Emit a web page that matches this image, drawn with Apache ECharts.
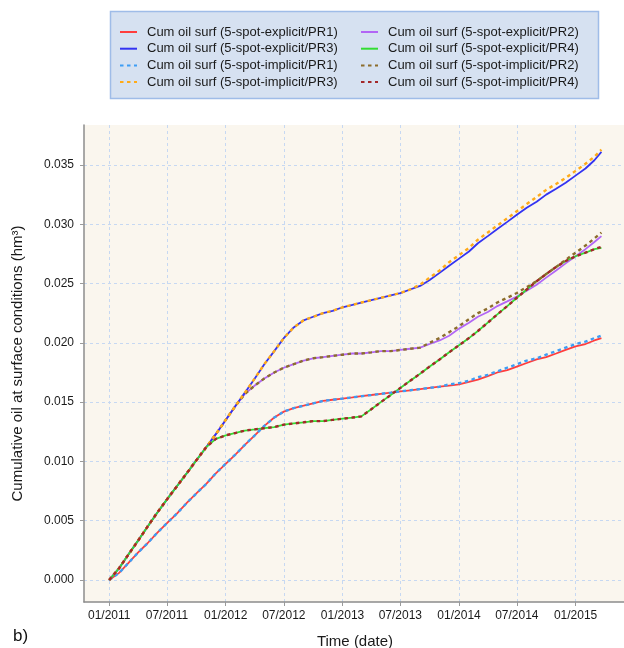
<!DOCTYPE html>
<html>
<head>
<meta charset="utf-8">
<script src="https://cdn.jsdelivr.net/npm/echarts@6/dist/echarts.min.js"></script>
<style>
  html, body { margin: 0; padding: 0; background: #ffffff; }
  #chart { width: 624px; height: 648px; }
</style>
</head>
<body>
<div id="chart"></div>
<script>
// Report dates (monthly output, last step in March 2015)
const dates = [
  '2011-01-01','2011-02-01','2011-03-01','2011-04-01','2011-05-01','2011-06-01',
  '2011-07-01','2011-08-01','2011-09-01','2011-10-01','2011-11-01','2011-12-01',
  '2012-01-01','2012-02-01','2012-03-01','2012-04-01','2012-05-01','2012-06-01',
  '2012-07-01','2012-08-01','2012-09-01','2012-10-01','2012-11-01','2012-12-01',
  '2013-01-01','2013-02-01','2013-03-01','2013-04-01','2013-05-01','2013-06-01',
  '2013-07-01','2013-08-01','2013-09-01','2013-10-01','2013-11-01','2013-12-01',
  '2014-01-01','2014-02-01','2014-03-01','2014-04-01','2014-05-01','2014-06-01',
  '2014-07-01','2014-08-01','2014-09-01','2014-10-01','2014-11-01','2014-12-01',
  '2015-01-01','2015-02-01','2015-03-01','2015-03-23'
];

// Cumulative oil at surface conditions (hm3), explicit runs
const explicitPR1 = [0, 0.0006, 0.0014, 0.0023, 0.0031, 0.0040, 0.0048, 0.0056, 0.0065, 0.0073, 0.0081, 0.0090,
  0.0098, 0.0106, 0.0114, 0.0122, 0.0130, 0.0137, 0.0142, 0.0145, 0.0147, 0.0149, 0.0151, 0.0152,
  0.0153, 0.0154, 0.0155, 0.0156, 0.0157, 0.0158, 0.0159, 0.0160, 0.0161, 0.0162, 0.0163, 0.0164,
  0.0165, 0.0167, 0.0169, 0.0172, 0.0175, 0.0177, 0.0180, 0.0183, 0.0186, 0.0188, 0.0191, 0.0194,
  0.0197, 0.0199, 0.0202, 0.0204];
const explicitPR2 = [0, 0.0010, 0.0021, 0.0033, 0.0045, 0.0057, 0.0068, 0.0079, 0.0090, 0.0101, 0.0112, 0.0123,
  0.0135, 0.0147, 0.0157, 0.0164, 0.0170, 0.0175, 0.0179, 0.0182, 0.0185, 0.0187, 0.0188, 0.0189,
  0.0190, 0.0191, 0.0191, 0.0192, 0.0193, 0.0193, 0.0194, 0.0195, 0.0196, 0.0199, 0.0202, 0.0206,
  0.0212, 0.0217, 0.0222, 0.0226, 0.0231, 0.0235, 0.0239, 0.0244, 0.0249, 0.0255, 0.0261, 0.0267,
  0.0273, 0.0279, 0.0285, 0.0290];
const explicitPR3 = [0, 0.0010, 0.0021, 0.0033, 0.0045, 0.0057, 0.0068, 0.0079, 0.0090, 0.0101, 0.0112, 0.0123,
  0.0135, 0.0147, 0.0158, 0.0170, 0.0182, 0.0193, 0.0204, 0.0213, 0.0219, 0.0222, 0.0225, 0.0227,
  0.0230, 0.0232, 0.0234, 0.0236, 0.0238, 0.0240, 0.0242, 0.0245, 0.0248, 0.0253, 0.0259, 0.0265,
  0.0271, 0.0277, 0.0284, 0.0290, 0.0296, 0.0302, 0.0308, 0.0314, 0.0319, 0.0325, 0.0330, 0.0335,
  0.0341, 0.0347, 0.0354, 0.0361];
const explicitPR4 = [0, 0.0010, 0.0021, 0.0033, 0.0045, 0.0057, 0.0068, 0.0079, 0.0090, 0.0101, 0.0112, 0.0119,
  0.0122, 0.0124, 0.0126, 0.0127, 0.0128, 0.0129, 0.0131, 0.0132, 0.0133, 0.0134, 0.0134, 0.0135,
  0.0136, 0.0137, 0.0138, 0.0144, 0.0150, 0.0156, 0.0162, 0.0168, 0.0174, 0.0180, 0.0186, 0.0192,
  0.0198, 0.0204, 0.0210, 0.0217, 0.0224, 0.0231, 0.0238, 0.0245, 0.0252, 0.0258, 0.0264, 0.0269,
  0.0273, 0.0276, 0.0279, 0.0280];

// Implicit runs
const implicitPR1 = [0, 0.0006, 0.0014, 0.0023, 0.0031, 0.0040, 0.0048, 0.0056, 0.0065, 0.0073, 0.0081, 0.0090,
  0.0098, 0.0106, 0.0114, 0.0122, 0.0130, 0.0137, 0.0142, 0.0145, 0.0147, 0.0149, 0.0151, 0.0152,
  0.0153, 0.0154, 0.0155, 0.0156, 0.0157, 0.0158, 0.0159, 0.0160, 0.0161, 0.0162, 0.0163, 0.0165,
  0.0166, 0.0168, 0.0171, 0.0173, 0.0176, 0.0179, 0.0182, 0.0185, 0.0187, 0.0190, 0.0193, 0.0196,
  0.0199, 0.0201, 0.0204, 0.0206];
const implicitPR2 = [0, 0.0010, 0.0021, 0.0033, 0.0045, 0.0057, 0.0068, 0.0079, 0.0090, 0.0101, 0.0112, 0.0123,
  0.0135, 0.0147, 0.0157, 0.0164, 0.0170, 0.0175, 0.0179, 0.0182, 0.0185, 0.0187, 0.0188, 0.0189,
  0.0190, 0.0191, 0.0191, 0.0192, 0.0193, 0.0193, 0.0194, 0.0195, 0.0196, 0.0200, 0.0204, 0.0209,
  0.0214, 0.0220, 0.0225, 0.0229, 0.0234, 0.0238, 0.0242, 0.0247, 0.0252, 0.0258, 0.0264, 0.0270,
  0.0276, 0.0282, 0.0288, 0.0293];
const implicitPR3 = [0, 0.0010, 0.0021, 0.0033, 0.0045, 0.0057, 0.0068, 0.0079, 0.0090, 0.0101, 0.0112, 0.0123,
  0.0135, 0.0147, 0.0158, 0.0170, 0.0182, 0.0193, 0.0204, 0.0213, 0.0219, 0.0222, 0.0225, 0.0227,
  0.0230, 0.0232, 0.0234, 0.0236, 0.0238, 0.0240, 0.0242, 0.0245, 0.0249, 0.0255, 0.0261, 0.0268,
  0.0274, 0.0280, 0.0287, 0.0293, 0.0299, 0.0305, 0.0311, 0.0317, 0.0323, 0.0329, 0.0334, 0.0339,
  0.0345, 0.0351, 0.0357, 0.0363];
const implicitPR4 = [0, 0.0010, 0.0021, 0.0033, 0.0045, 0.0057, 0.0068, 0.0079, 0.0090, 0.0101, 0.0112, 0.0119,
  0.0122, 0.0124, 0.0126, 0.0127, 0.0128, 0.0129, 0.0131, 0.0132, 0.0133, 0.0134, 0.0134, 0.0135,
  0.0136, 0.0137, 0.0138, 0.0144, 0.0150, 0.0156, 0.0162, 0.0168, 0.0174, 0.0180, 0.0186, 0.0192,
  0.0198, 0.0204, 0.0210, 0.0217, 0.0224, 0.0231, 0.0238, 0.0245, 0.0252, 0.0258, 0.0264, 0.0269,
  0.0273, 0.0276, 0.0279, 0.0281];

// Half-yearly tick dates on the date axis
const tickDates = ['2011-01-01','2011-07-01','2012-01-01','2012-07-01','2013-01-01',
  '2013-07-01','2014-01-01','2014-07-01','2015-01-01'];
// Value-axis ticks
const valueTicks = [0, 0.005, 0.010, 0.015, 0.020, 0.025, 0.030, 0.035];

const FONT = '"Liberation Sans", Arial, Helvetica, sans-serif';

function toTime(s) {
  const p = s.split('-').map(Number);
  return new Date(p[0], p[1] - 1, p[2]).getTime();
}
function pairs(values) {
  return values.map((v, i) => [toTime(dates[i]), v]);
}

const seriesDefs = [
  { name: 'Cum oil surf (5-spot-explicit/PR1)', data: explicitPR1, color: '#ff3d3d', dash: 'solid', width: 1.8 },
  { name: 'Cum oil surf (5-spot-explicit/PR2)', data: explicitPR2, color: '#b266f5', dash: 'solid', width: 1.8 },
  { name: 'Cum oil surf (5-spot-explicit/PR3)', data: explicitPR3, color: '#3333f2', dash: 'solid', width: 1.8 },
  { name: 'Cum oil surf (5-spot-explicit/PR4)', data: explicitPR4, color: '#33dd33', dash: 'solid', width: 1.8 },
  { name: 'Cum oil surf (5-spot-implicit/PR1)', data: implicitPR1, color: '#3d9df5', dash: [3.5, 3.5], width: 2.4 },
  { name: 'Cum oil surf (5-spot-implicit/PR2)', data: implicitPR2, color: '#8c6d2c', dash: [3.5, 3.5], width: 2.4 },
  { name: 'Cum oil surf (5-spot-implicit/PR3)', data: implicitPR3, color: '#ffab19', dash: [3.5, 3.5], width: 2.4 },
  { name: 'Cum oil surf (5-spot-implicit/PR4)', data: implicitPR4, color: '#a3282a', dash: [3.5, 3.5], width: 2.4 }
];

const series = seriesDefs.map(d => ({
  name: d.name,
  type: 'line',
  data: pairs(d.data),
  symbol: 'none',
  smooth: false,
  animation: false,
  color: d.color,
  lineStyle: { color: d.color, width: d.width, type: d.dash }
}));

// Legend keys show only the line sample, no marker
const legendCommon = {
  orient: 'vertical',
  top: 25,
  padding: 0,
  itemWidth: 17,
  itemHeight: 14,
  itemGap: 2.7,
  selectedMode: false,
  itemStyle: { opacity: 0, borderWidth: 0 },
  lineStyle: { width: 2 },
  textStyle: { fontFamily: FONT, fontSize: 13, color: '#1a1a1a', lineHeight: 14, padding: [0, 0, 0, 5] }
};

const chart = echarts.init(document.getElementById('chart'), null, { renderer: 'canvas' });
chart.setOption({
  animation: false,
  backgroundColor: '#ffffff',
  graphic: [
    {
      type: 'rect',
      shape: { x: 110.5, y: 11.5, width: 488, height: 87 },
      style: { fill: '#d6e1f1', stroke: '#9fbce8', lineWidth: 1.5 },
      z: -1
    },
    {
      type: 'text',
      left: 13,
      top: 628,
      style: { text: 'b)', font: '17px ' + FONT, fill: '#111' }
    }
  ],
  legend: [
    Object.assign({}, legendCommon, {
      left: 119,
      data: [seriesDefs[0].name, seriesDefs[2].name, seriesDefs[4].name, seriesDefs[6].name]
    }),
    Object.assign({}, legendCommon, {
      left: 360,
      data: [seriesDefs[1].name, seriesDefs[3].name, seriesDefs[5].name, seriesDefs[7].name]
    })
  ],
  grid: {
    left: 84, top: 125, right: -2, bottom: 46,
    outerBoundsMode: 'none',
    show: true, backgroundColor: '#faf6ee', borderWidth: 0
  },
  xAxis: {
    type: 'value',
    min: toTime('2010-10-14'),
    max: toTime('2015-06-08'),
    name: 'Time (date)',
    nameLocation: 'middle',
    nameGap: 32,
    nameTextStyle: { fontFamily: FONT, fontSize: 15, color: '#1a1a1a' },
    axisLine: { show: true, onZero: false, lineStyle: { color: '#8c8c8c', width: 1.5 } },
    axisTick: { show: true, length: 4, lineStyle: { color: '#9a9a9a' }, customValues: tickDates.map(toTime) },
    axisLabel: {
      fontFamily: FONT, fontSize: 12, color: '#1a1a1a', margin: 8,
      customValues: tickDates.map(toTime),
      formatter: function (v) {
        const d = new Date(v);
        const m = d.getMonth() + 1;
        return (m < 10 ? '0' + m : '' + m) + '/' + d.getFullYear();
      }
    },
    splitLine: { show: true, lineStyle: { color: '#c6d8f2', width: 1, type: [3, 3] } }
  },
  yAxis: {
    type: 'value',
    min: -0.001855,
    max: 0.03837,
    name: 'Cumulative oil at surface conditions (hm³)',
    nameLocation: 'middle',
    nameGap: 59,
    nameTextStyle: { fontFamily: FONT, fontSize: 15, color: '#1a1a1a' },
    axisLine: { show: true, onZero: false, lineStyle: { color: '#8c8c8c', width: 1.5 } },
    axisTick: { show: true, length: 4, lineStyle: { color: '#9a9a9a' }, customValues: valueTicks },
    axisLabel: {
      fontFamily: FONT, fontSize: 12, color: '#1a1a1a', margin: 10,
      customValues: valueTicks,
      formatter: function (v) { return v.toFixed(3); }
    },
    splitLine: {
      show: true,
      lineStyle: { color: '#c6d8f2', width: 1, type: [3, 3] }
    }
  },
  series: series
});
</script>
</body>
</html>
